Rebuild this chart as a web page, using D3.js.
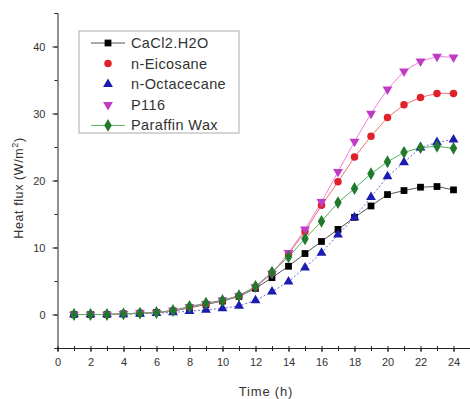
<!DOCTYPE html>
<html>
<head>
<meta charset="utf-8">
<script src="https://cdn.jsdelivr.net/npm/d3@7"></script>
<style>
  html, body { margin: 0; padding: 0; background: #fff; }
  svg { display: block; font-family: "Liberation Sans", Arial, sans-serif; }
</style>
</head>
<body>
<svg id="chart" width="470" height="399"></svg>
<script>
// Hourly heat flux of each storage material
const hours = d3.range(1, 25);
const cacl2 = [0, 0, 0, 0.1, 0.2, 0.3, 0.5, 1.0, 1.5, 2.0, 2.7, 3.9, 5.5, 7.2, 9.1, 10.9, 12.7, 14.5, 16.2, 17.9, 18.5, 19.0, 19.1, 18.6];
const eicosane = [0, 0, 0, 0.1, 0.2, 0.3, 0.6, 1.1, 1.6, 2.1, 2.8, 4.1, 6.2, 9.0, 12.4, 16.3, 19.8, 23.5, 26.6, 29.4, 31.3, 32.4, 33.0, 33.0];
const octadecane = [0, 0, 0, 0, 0.1, 0.2, 0.3, 0.5, 0.7, 0.9, 1.3, 2.1, 3.4, 4.9, 7.0, 9.2, 11.9, 14.5, 17.5, 20.6, 22.7, 24.9, 25.7, 26.1];
const p116 = [0, 0, 0, 0.1, 0.2, 0.3, 0.6, 1.1, 1.6, 2.1, 2.8, 4.1, 6.1, 9.2, 12.7, 16.8, 21.3, 25.8, 30.0, 33.6, 36.3, 37.8, 38.5, 38.4];
const paraffin = [0, 0, 0, 0.1, 0.2, 0.3, 0.6, 1.2, 1.7, 2.1, 2.8, 4.2, 6.3, 8.6, 11.3, 13.9, 16.7, 18.8, 21.0, 22.8, 24.2, 24.9, 25.1, 24.8];

const seriesNames = ["CaCl2.H2O", "n-Eicosane", "n-Octacecane", "P116", "Paraffin Wax"];
const xTicks = [0, 2, 4, 6, 8, 10, 12, 14, 16, 18, 20, 22, 24];
const yTicks = [0, 10, 20, 30, 40];

const series = [
  { name: seriesNames[0], values: cacl2, color: "#000000", line: "#555555", symbol: d3.symbolSquare, rot: 0, size: 46, legendLine: true, dash: null },
  { name: seriesNames[1], values: eicosane, color: "#e0202a", line: "#f07070", symbol: d3.symbolCircle, rot: 0, size: 44, legendLine: false, dash: null },
  { name: seriesNames[2], values: octadecane, color: "#1c1cb0", line: "#6a6ae0", symbol: d3.symbolTriangle, rot: 0, size: 42, legendLine: false, dash: "2,2" },
  { name: seriesNames[3], values: p116, color: "#c03cc4", line: "#f080e0", symbol: d3.symbolTriangle, rot: 180, size: 42, legendLine: false, dash: null },
  { name: seriesNames[4], values: paraffin, color: "#217a2c", line: "#58b060", symbol: d3.symbolDiamond, rot: 0, size: 48, legendLine: true, dash: null }
];

const svg = d3.select("#chart");
const x = d3.scaleLinear().domain([0, 25]).range([57.5, 470]);
const y = d3.scaleLinear().domain([-5, 45]).range([348, 13]);

const axisColor = "#222";
const textColor = "#333";

// X axis with minor ticks at odd hours
const gx = svg.append("g").attr("transform", `translate(0,${y(-5)})`);
gx.call(d3.axisBottom(x).tickValues(d3.range(0, 26)).tickSize(3).tickFormat(""));
gx.call(g => g.selectAll(".tick line").attr("y1", -2));
const gxMajor = svg.append("g").attr("transform", `translate(0,${y(-5)})`);
gxMajor.call(d3.axisBottom(x).tickValues(xTicks).tickSize(4).tickPadding(6).tickFormat(d3.format("d")));
gxMajor.select(".domain").remove();
[gx, gxMajor].forEach(g => {
  g.selectAll("path, line").attr("stroke", axisColor);
  g.selectAll("text").attr("fill", textColor).attr("font-size", 11);
});

// Y axis with minor ticks every 5
const gy = svg.append("g").attr("transform", `translate(${x(0)},0)`);
gy.call(d3.axisLeft(y).tickValues(d3.range(-5, 46, 5)).tickSize(3).tickFormat(""));
const gyMajor = svg.append("g").attr("transform", `translate(${x(0)},0)`);
gyMajor.call(d3.axisLeft(y).tickValues(yTicks).tickSize(5).tickPadding(7).tickFormat(d3.format("d")));
gyMajor.select(".domain").remove();
[gy, gyMajor].forEach(g => {
  g.selectAll("path, line").attr("stroke", axisColor);
  g.selectAll("text").attr("fill", textColor).attr("font-size", 11);
});

// Axis titles
svg.append("text")
  .attr("x", 266).attr("y", 396)
  .attr("text-anchor", "middle").attr("fill", textColor)
  .attr("font-size", 13).attr("letter-spacing", 0.8)
  .text("Time (h)");

const yTitle = svg.append("text")
  .attr("transform", `translate(23,188) rotate(-90)`)
  .attr("text-anchor", "middle").attr("fill", textColor)
  .attr("font-size", 12.5).attr("letter-spacing", 0.6);
yTitle.append("tspan").text("Heat flux (W/m");
yTitle.append("tspan").attr("font-size", 9).attr("dy", -5).text("2");
yTitle.append("tspan").attr("dy", 5).text(")");

// Series lines and markers
const line = d3.line().x((d, i) => x(hours[i])).y(d => y(d));
series.forEach(s => {
  svg.append("path")
    .datum(s.values)
    .attr("d", line)
    .attr("fill", "none")
    .attr("stroke", s.line)
    .attr("stroke-width", 1)
    .attr("stroke-dasharray", s.dash);
});
series.forEach(s => {
  const sym = d3.symbol().type(s.symbol).size(s.size);
  svg.append("g").selectAll("path")
    .data(s.values)
    .join("path")
    .attr("d", sym)
    .attr("transform", (d, i) => `translate(${x(hours[i])},${y(d)}) rotate(${s.rot})`)
    .attr("fill", s.color);
});

// Legend
const legend = svg.append("g").attr("transform", "translate(79,31)");
legend.append("rect")
  .attr("width", 160).attr("height", 102)
  .attr("fill", "#fff").attr("stroke", "#aaa").attr("stroke-width", 1);
series.forEach((s, i) => {
  const row = legend.append("g").attr("transform", `translate(0,${12 + i * 20.6})`);
  if (s.legendLine) {
    row.append("line").attr("x1", 12).attr("x2", 46).attr("y1", 0).attr("y2", 0)
      .attr("stroke", s.line).attr("stroke-width", 1);
  }
  row.append("path")
    .attr("d", d3.symbol().type(s.symbol).size(s.size)())
    .attr("transform", `translate(29,0) rotate(${s.rot})`)
    .attr("fill", s.color);
  row.append("text")
    .attr("x", 52).attr("y", 5)
    .attr("fill", textColor).attr("font-size", 14.5).attr("letter-spacing", 0.4)
    .text(s.name);
});
</script>
</body>
</html>
